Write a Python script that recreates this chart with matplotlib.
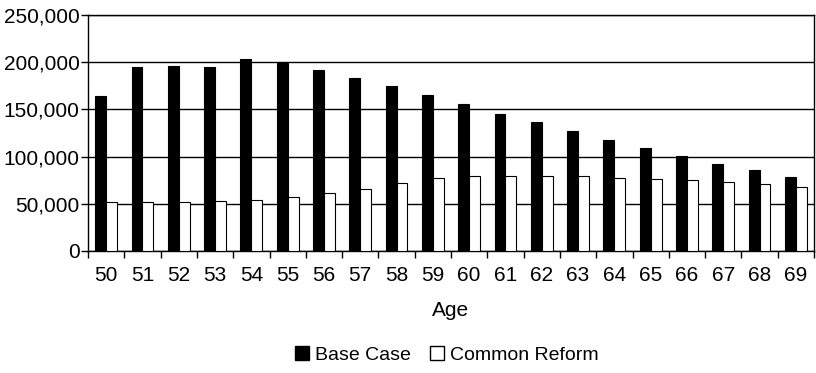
import numpy as np
import matplotlib
matplotlib.use('Agg')
from matplotlib import pyplot as plt
from matplotlib.lines import Line2D
from matplotlib.ticker import FuncFormatter

plt.rcParams['font.family'] = ['Liberation Sans', 'DejaVu Sans']

ages = [str(a) for a in range(50, 70)]
base_case = [164000, 194500, 196000, 194500, 203000, 199500, 191500, 183000, 174500, 165500,
             155500, 145500, 137000, 127000, 118000, 109500, 101000, 92500, 85500, 78000]
common_reform = [51700, 51700, 51700, 52700, 54400, 57600, 61800, 66000, 71700, 77600,
                 79100, 79100, 79100, 79100, 77600, 76300, 74900, 73400, 70700, 67500]

fig = plt.figure(figsize=(8.16, 3.73), dpi=100)
ax = fig.add_axes([88/816, 1 - 251/373, (814-88)/816, (251-15)/373])

x = np.arange(len(ages))
w = 0.3
ax.bar(x - w/2, base_case, w, color='black', edgecolor='black', linewidth=0.8, zorder=3)
ax.bar(x + w/2, common_reform, w, color='white', edgecolor='black', linewidth=0.8, zorder=3)

ax.set_xlim(-0.5, len(ages) - 0.5)
ax.set_ylim(0, 250000)
ax.set_yticks(range(0, 250001, 50000))
ax.yaxis.set_major_formatter(FuncFormatter(lambda v, p: f'{int(v):,}'))
ax.yaxis.grid(True, color='black', linewidth=1, zorder=0)

ax.set_xticks(x)
ax.set_xticklabels(ages)
ax.set_xticks(np.arange(-0.5, len(ages), 1), minor=True)
ax.tick_params(axis='x', which='major', length=0, pad=11, labelsize=15)
ax.tick_params(axis='x', which='minor', length=5, width=1, direction='out')
ax.tick_params(axis='y', length=5, width=1, direction='out', labelsize=15, pad=1)

for s in ax.spines.values():
    s.set_linewidth(1)
    s.set_color('black')

ax.set_xlabel('Age', fontsize=15, labelpad=11)

handles = [
    Line2D([], [], marker='s', linestyle='none', markersize=10, markerfacecolor='black', markeredgecolor='black'),
    Line2D([], [], marker='s', linestyle='none', markersize=10, markerfacecolor='white', markeredgecolor='black'),
]
fig.legend(handles, ['Base Case', 'Common Reform'], loc='center', bbox_to_anchor=(447/816, 1 - 355/373),
           ncol=2, frameon=False, fontsize=14, handlelength=0.7, handletextpad=0.3, columnspacing=1.0)

fig.savefig('out.png', dpi=100)
